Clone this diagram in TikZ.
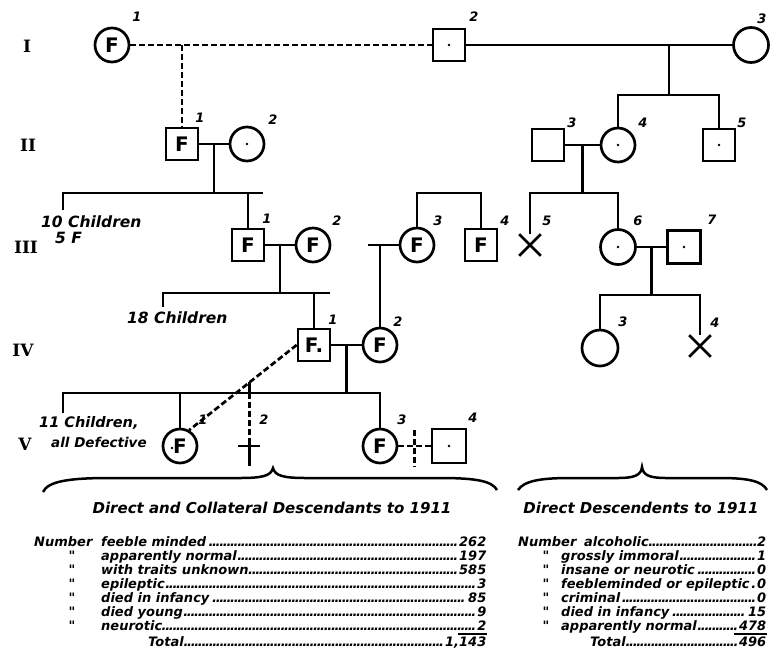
\documentclass[tikz,border=0pt]{standalone}
\usepackage{fontspec}
\newfontfamily\lab{DejaVu Sans}
\newfontfamily\symf{DejaVu Sans}
\newfontfamily\romf{DejaVu Serif}
\usetikzlibrary{shapes.misc,calc}
\newcommand\myleader{\leaders\hbox to 3.6pt{\hss.\hss}\hfill}
\tikzset{
 ln/.style={line width=2.7pt},
 dsh/.style={line width=2.7pt, dash pattern=on 6pt off 3pt},
 sq/.style={draw, rectangle, line width=2.7pt, minimum size=32pt, inner sep=0pt, font=\symf\bfseries\fontsize{20}{21}\selectfont},
 ci/.style={draw, circle, line width=2.7pt, minimum size=34pt, inner sep=0pt, font=\symf\bfseries\fontsize{20}{21}\selectfont},
 ctr/.style={path picture={\fill (path picture bounding box.center) circle (1.3pt);}},
 xx/.style={draw, cross out, line width=2.7pt, minimum size=19pt, inner sep=0pt},
 num/.style={font=\lab\bfseries\itshape\fontsize{13}{14}\selectfont, inner sep=0pt},
 gen/.style={font=\romf\bfseries\fontsize{17}{18}\selectfont, inner sep=0pt},
 note/.style={font=\lab\bfseries\itshape\fontsize{15.5}{17}\selectfont, anchor=west, inner sep=0pt},
 ttl/.style={font=\lab\bfseries\itshape\fontsize{15}{16}\selectfont, inner sep=0pt},
 tab/.style={font=\lab\bfseries\itshape\fontsize{13}{14}\selectfont, anchor=base west, inner sep=0pt},
 dit/.style={font=\lab\bfseries\itshape\fontsize{13}{14}\selectfont, anchor=base, inner sep=0pt},
 brc/.style={line width=2.5pt},
}
\begin{document}
\begin{tikzpicture}[x=1pt,y=-1pt]
\useasboundingbox (0,0) rectangle (770,662);
\fill[white] (0,0) rectangle (770,662);

% generation numerals
\node[gen] (gI) at (27,46) {I};
\node[gen] (gII) at (28,145) {II};
\node[gen] (gIII) at (26,247) {III};
\node[gen] (gIV) at (23,350) {IV};
\node[gen] (gV) at (25,444) {V};

% ---------- Generation I
\node[ci] (I1) at (112,45) {F};
\node[sq,ctr] (I2) at (449,45) {};
\node[ci,minimum size=35pt] (I3) at (751,45) {};
\node[num] (lI1) at (137,17) {1};
\node[num] (lI2) at (474,17) {2};
\node[num] (lI3) at (762,19) {3};

% ---------- Generation II
\node[sq] (II1) at (182,144) {F};
\node[ci,ctr] (II2) at (247,144) {};
\node[sq] (II3) at (548,145) {};
\node[ci,ctr] (II4) at (618,145) {};
\node[sq,ctr] (II5) at (719,145) {};
\node[num] (lII1) at (200,118) {1};
\node[num] (lII2) at (273,120) {2};
\node[num] (lII3) at (572,123) {3};
\node[num] (lII4) at (643,123) {4};
\node[num] (lII5) at (742,123) {5};

% ---------- Generation III
\node[sq] (III1) at (248,245) {F};
\node[ci] (III2) at (313,245) {F};
\node[ci] (III3) at (417,245) {F};
\node[sq] (III4) at (481,245) {F};
\node[xx] (III5) at (530,245) {};
\node[ci,ctr,minimum size=35pt] (III6) at (618,247) {};
\node[sq,ctr,minimum size=33pt] (III7) at (684,247) {};
\node[num] (lIII1) at (267,219) {1};
\node[num] (lIII2) at (337,221) {2};
\node[num] (lIII3) at (438,221) {3};
\node[num] (lIII4) at (505,221) {4};
\node[num] (lIII5) at (547,221) {5};
\node[num] (lIII6) at (638,221) {6};
\node[num] (lIII7) at (712,220) {7};

% ---------- Generation IV
\node[sq] (IV1) at (314,345) {F.};
\node[ci] (IV2) at (380,345) {F};
\node[ci,minimum size=36pt] (IV3) at (600,348) {};
\node[xx] (IV4) at (700,346) {};
\node[num] (lIV1) at (333,320) {1};
\node[num] (lIV2) at (398,322) {2};
\node[num] (lIV3) at (623,322) {3};
\node[num] (lIV4) at (715,323) {4};

% ---------- Generation V
\node[ci,path picture={\fill ([xshift=-8pt,yshift=-2pt]path picture bounding box.center) circle (1.3pt);}] (V1) at (180,446) {F};
\node[ci] (V3) at (380,446) {F};
\node[sq,ctr,minimum size=34pt] (V4) at (449,446) {};
\node[num] (lV1) at (203,420) {1};
\node[num] (lV2) at (264,420) {2};
\node[num] (lV3) at (402,420) {3};
\node[num] (lV4) at (473,418) {4};

% ---------- connectors generation I -> II
\draw[dsh] (I1) -- (I2);
\coordinate (dI) at (II1 |- I1);
\draw[dsh] (dI) -- (II1.north);
\draw[ln] (I2) -- (I3);
\coordinate (mI) at (669,45);
\coordinate (sII) at (669,95);
\draw[ln] (mI) -- (sII);
\draw[ln] (II4.north) |- (sII) -| (II5.north);

% ---------- II -> III
\draw[ln] (II1) -- (II2);
\coordinate (mII12) at ($(II1.east)!.5!(II2.west)$);
\coordinate (k10) at (63,210);
\coordinate (sIIIa) at (263,193);
\draw[ln] (k10) |- (sIIIa);
\draw[ln] (mII12) -- (mII12 |- sIIIa);
\draw[ln] (III1.north) -- (III1 |- sIIIa);

\draw[ln] (II3) -- (II4);
\coordinate (mII34) at ($(II3.east)!.5!(II4.west)$);
\coordinate (sIIIc) at (mII34 |- sIIIa);
\draw[ln] (mII34) -- (sIIIc);
\draw[ln] (III5.north) |- (sIIIc) -| (III6.north);

\coordinate (sIIIb) at (449,193);
\draw[ln] (III3.north) |- (sIIIb) -| (III4.north);

% ---------- III -> IV
\draw[ln] (III1) -- (III2);
\coordinate (mIII12) at ($(III1.east)!.5!(III2.west)$);
\coordinate (k18) at (163,307);
\coordinate (sIVa) at (330,293);
\draw[ln] (k18) |- (sIVa);
\draw[ln] (mIII12) -- (mIII12 |- sIVa);
\draw[ln] (IV1.north) -- (IV1 |- sIVa);

\coordinate (sp3) at (368,245);
\draw[ln] (sp3) -- (III3);
\draw[ln] (IV2.north) -- (IV2 |- III3);

\draw[ln] (III6) -- (III7);
\coordinate (mIII67) at ($(III6.east)!.5!(III7.west)$);
\coordinate (sIVb) at ($(mIII67)+(0,48)$);
\draw[ln] (mIII67) -- (sIVb);
\draw[ln] (IV3.north) |- (sIVb) -| (IV4.north);

% ---------- IV -> V
\draw[ln] (IV1) -- (IV2);
\coordinate (mIV12) at ($(IV1.east)!.5!(IV2.west)$);
\coordinate (sV) at ($(mIV12)+(0,48)$);
\coordinate (k11) at (63,413);
\draw[ln] (mIV12) -- (sV);
\draw[ln] (k11) |- (V3 |- sV) -- (V3.north);
\draw[ln] (V1.north) -- (V1 |- sV);

\draw[dsh] (IV1.west) -- (V1.60);
\coordinate (V2t) at ($(IV1.west)!0.44!(V1.60)$);
\coordinate (V2) at (V2t |- V1);
\draw[ln] (V2t) -- (V2t |- sV);
\draw[dsh] (V2t |- sV) -- ($(V2)+(0,-8)$);
\draw[ln] ($(V2)+(0,-8)$) -- ($(V2)+(0,20)$);
\draw[ln] ($(V2)+(-11,0)$) -- ($(V2)+(11,0)$);

\draw[dsh] (V3) -- (V4);
\coordinate (v34) at ($(V3.east)!.5!(V4.west)$);
\draw[dsh] ($(v34)+(0,-16)$) -- ($(v34)+(0,21)$);

% ---------- notes
\node[note] (n10) at (41,222) {10 Children};
\node[note] (n5f) at (55,238) {5 F};
\node[note] (n18) at (127,318) {18 Children};
\node[note,font=\lab\bfseries\itshape\fontsize{14.5}{16}\selectfont] (n11) at (39,423) {11 Children,};
\node[note,font=\lab\bfseries\itshape\fontsize{13.5}{15}\selectfont] (nall) at (51,442) {all Defective};

% ---------- braces
\draw[brc] (43,492) .. controls (48,481) and (70,478) .. (110,478) -- (240,478)
  .. controls (262,478) and (271,476) .. (273,468)
  .. controls (275,476) and (284,478) .. (306,478) -- (440,478)
  .. controls (476,478) and (492,481) .. (497,490);
\draw[brc] (518,490) .. controls (524,481) and (540,478) .. (570,478) -- (618,478)
  .. controls (635,478) and (641,475) .. (642,467)
  .. controls (643,475) and (649,478) .. (666,478) -- (720,478)
  .. controls (748,478) and (762,481) .. (767,490);

\node[ttl] (t1) at (272,508) {Direct and Collateral Descendants to 1911};
\node[ttl] (t2) at (641,508) {Direct Descendents to 1911};

% ---------- left table
\node[tab] (Lnum) at (34,546) {Number};
\node[tab] (L1) at (101,546) {\makebox[385pt][l]{feeble minded\myleader 262}};
\node[dit] (Ld2) at (72,560) {"};
\node[tab] (L2) at (101,560) {\makebox[385pt][l]{apparently normal\myleader 197}};
\node[dit] (Ld3) at (72,574) {"};
\node[tab] (L3) at (101,574) {\makebox[385pt][l]{with traits unknown\myleader 585}};
\node[dit] (Ld4) at (72,588) {"};
\node[tab] (L4) at (101,588) {\makebox[385pt][l]{epileptic\myleader 3}};
\node[dit] (Ld5) at (72,602) {"};
\node[tab] (L5) at (101,602) {\makebox[385pt][l]{died in infancy\myleader 85}};
\node[dit] (Ld6) at (72,616) {"};
\node[tab] (L6) at (101,616) {\makebox[385pt][l]{died young\myleader 9}};
\node[dit] (Ld7) at (72,630) {"};
\node[tab] (L7) at (101,630) {\makebox[385pt][l]{neurotic\myleader 2}};
\node[tab] (LT) at (148,646) {\makebox[338pt][l]{Total\myleader 1,143}};
\draw[line width=1.2pt] (458,634) -- (487,634);

% ---------- right table
\node[tab] (Rnum) at (518,546) {Number};
\node[tab] (R1) at (584,546) {\makebox[182pt][l]{alcoholic\myleader 2}};
\node[dit] (Rd2) at (546,560) {"};
\node[tab] (R2) at (561,560) {\makebox[205pt][l]{grossly immoral\myleader 1}};
\node[dit] (Rd3) at (546,574) {"};
\node[tab] (R3) at (561,574) {\makebox[205pt][l]{insane or neurotic\myleader 0}};
\node[dit] (Rd4) at (546,588) {"};
\node[tab] (R4) at (561,588) {\makebox[205pt][l]{feebleminded or epileptic\myleader 0}};
\node[dit] (Rd5) at (546,602) {"};
\node[tab] (R5) at (561,602) {\makebox[205pt][l]{criminal\myleader 0}};
\node[dit] (Rd6) at (546,616) {"};
\node[tab] (R6) at (561,616) {\makebox[205pt][l]{died in infancy\myleader 15}};
\node[dit] (Rd7) at (546,630) {"};
\node[tab] (R7) at (561,630) {\makebox[205pt][l]{apparently normal\myleader 478}};
\node[tab] (RT) at (590,646) {\makebox[176pt][l]{Total\myleader 496}};
\draw[line width=1.2pt] (734,634) -- (767,634);
\end{tikzpicture}
\end{document}
